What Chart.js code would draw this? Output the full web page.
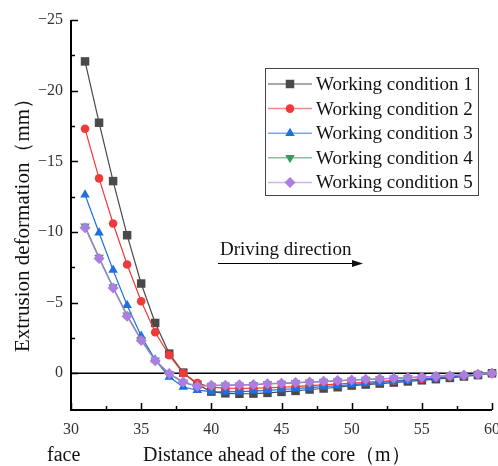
<!DOCTYPE html>
<html>
<head>
<meta charset="utf-8">
<script src="https://cdn.jsdelivr.net/npm/chart.js@4.4.1/dist/chart.umd.min.js"></script>
<style>
  html, body { margin: 0; padding: 0; background: #fff; }
  #wrap { width: 498px; height: 466px; }
</style>
</head>
<body>
<div id="wrap"><canvas id="chart" width="498" height="466"></canvas></div>
<script>
const distances = [31, 32, 33, 34, 35, 36, 37, 38, 39, 40, 41, 42, 43, 44, 45,
  46, 47, 48, 49, 50, 51, 52, 53, 54, 55, 56, 57, 58, 59, 60];

const condition1 = [-22.07, -17.73, -13.6, -9.77, -6.35, -3.56, -1.39, -0.05, 0.8, 1.3, 1.42, 1.45,
  1.44, 1.39, 1.32, 1.25, 1.15, 1.08, 0.99, 0.87, 0.8, 0.73, 0.66, 0.58, 0.5, 0.42, 0.33, 0.23, 0.13, 0.0];
const condition2 = [-17.3, -13.79, -10.6, -7.7, -5.1, -2.9, -1.27, 0.0, 0.69, 0.98, 1.05, 1.07,
  1.06, 1.03, 0.99, 0.94, 0.88, 0.82, 0.76, 0.7, 0.64, 0.58, 0.52, 0.46, 0.4, 0.33, 0.25, 0.17, 0.09, 0.0];
const condition3 = [-12.63, -9.94, -7.3, -4.82, -2.64, -0.95, 0.26, 0.97, 1.2, 1.3, 1.32, 1.3,
  1.26, 1.21, 1.15, 1.09, 1.02, 0.95, 0.88, 0.8, 0.73, 0.65, 0.58, 0.5, 0.42, 0.34, 0.26, 0.17, 0.09, 0.0];
const condition4 = [-10.4, -8.2, -6.1, -4.1, -2.38, -0.92, 0.03, 0.66, 0.92, 0.86, 0.85, 0.84,
  0.81, 0.76, 0.72, 0.68, 0.63, 0.59, 0.54, 0.49, 0.45, 0.4, 0.36, 0.31, 0.27, 0.22, 0.17, 0.12, 0.07, 0.0];
const condition5 = [-10.29, -8.12, -6.04, -4.04, -2.32, -0.88, 0.02, 0.61, 0.92, 0.85, 0.84, 0.82,
  0.8, 0.74, 0.7, 0.66, 0.61, 0.57, 0.52, 0.47, 0.43, 0.39, 0.35, 0.3, 0.26, 0.21, 0.17, 0.12, 0.07, 0.0];

const seriesNames = ['Working condition 1', 'Working condition 2', 'Working condition 3',
  'Working condition 4', 'Working condition 5'];
const yTickValues = [-25, -20, -15, -10, -5, 0];
const xTickValues = [30, 35, 40, 45, 50, 55, 60];

const SERIF = '"Liberation Serif", "Times New Roman", serif';

const styles = [
  { color: '#4a4a4a', line: 'rgba(60,60,60,0.6)', point: 'rect', radius: 6, rotation: 0 },
  { color: '#ef3a3a', line: 'rgba(239,58,58,0.6)', point: 'circle', radius: 4.3, rotation: 0 },
  { color: '#1f6fe0', line: 'rgba(31,111,224,0.6)', point: 'triangle', radius: 5.5, rotation: 0 },
  { color: '#2ea05c', line: 'rgba(46,160,92,0.6)', point: 'triangle', radius: 5.5, rotation: 180 },
  { color: '#ad7ee2', line: 'rgba(173,126,226,0.6)', point: 'rectRot', radius: 5.5, rotation: 0 }
];
const allSeries = [condition1, condition2, condition3, condition4, condition5];

const datasets = allSeries.map((vals, i) => ({
  label: seriesNames[i],
  data: distances.map((d, j) => ({ x: d, y: vals[j] })),
  borderColor: styles[i].color,
  backgroundColor: styles[i].color,
  borderWidth: 1.2,
  pointStyle: styles[i].point,
  pointRadius: styles[i].radius,
  pointRotation: styles[i].rotation,
  pointBorderWidth: 0,
  pointBackgroundColor: styles[i].color,
  tension: 0,
  clip: false,
  order: 5 - i
}));

// zero line, inward ticks, axis titles, legend and the driving-direction arrow
const decorPlugin = {
  id: 'decor',
  beforeDatasetsDraw(chart) {
    const { ctx, chartArea } = chart;
    const y0 = chart.scales.y.getPixelForValue(0);
    ctx.save();
    ctx.strokeStyle = '#000';
    ctx.lineWidth = 1.6;
    ctx.beginPath();
    ctx.moveTo(chartArea.left, y0);
    ctx.lineTo(chartArea.right, y0);
    ctx.stroke();
    ctx.restore();
  },
  afterDraw(chart) {
    const { ctx, chartArea } = chart;
    const xs = chart.scales.x, ys = chart.scales.y;
    ctx.save();
    ctx.strokeStyle = '#000';
    ctx.lineWidth = 2;
    ctx.beginPath();
    ctx.moveTo(chartArea.left, chartArea.top);
    ctx.lineTo(chartArea.left, chartArea.bottom);
    ctx.lineTo(chartArea.right, chartArea.bottom);
    ctx.stroke();

    ctx.lineWidth = 1.5;
    ctx.beginPath();
    for (let v = -25; v <= 0; v += 2.5) {
      const py = Math.round(ys.getPixelForValue(v)) + 0.5;
      const len = v % 5 === 0 ? 7 : 4;
      ctx.moveTo(chartArea.left, py);
      ctx.lineTo(chartArea.left + len, py);
    }
    for (let v = 30; v <= 60; v += 2.5) {
      const px = Math.round(xs.getPixelForValue(v)) + 0.5;
      const len = v % 5 === 0 ? 7 : 4;
      ctx.moveTo(px, chartArea.bottom);
      ctx.lineTo(px, chartArea.bottom - len);
    }
    ctx.stroke();

    // axis titles
    ctx.fillStyle = '#111';
    ctx.font = '20px ' + SERIF;
    ctx.textBaseline = 'middle';
    ctx.textAlign = 'left';
    ctx.fillText('Distance ahead of the core\uFF08m\uFF09', 143, 456);
    ctx.fillText('face', 47, 456);
    ctx.save();
    ctx.translate(23, 220);
    ctx.rotate(-Math.PI / 2);
    ctx.textAlign = 'center';
    ctx.font = '21px ' + SERIF;
    ctx.fillText('Extrusion deformation\uFF08mm\uFF09', 0, 0);
    ctx.restore();

    // driving direction
    ctx.font = '19px ' + SERIF;
    ctx.textAlign = 'left';
    ctx.textBaseline = 'alphabetic';
    ctx.fillText('Driving direction', 220, 255);
    ctx.lineWidth = 1.2;
    ctx.beginPath();
    ctx.moveTo(218, 263.5);
    ctx.lineTo(354, 263.5);
    ctx.stroke();
    ctx.beginPath();
    ctx.moveTo(363, 263.5);
    ctx.lineTo(352, 260);
    ctx.lineTo(352, 267);
    ctx.closePath();
    ctx.fill();

    // legend
    ctx.strokeStyle = '#444';
    ctx.lineWidth = 1;
    ctx.strokeRect(265.5, 68.5, 213, 127);
    ctx.font = '19px ' + SERIF;
    ctx.textBaseline = 'middle';
    seriesNames.forEach((name, i) => {
      const ly = 84 + i * 24.6;
      ctx.strokeStyle = styles[i].line;
      ctx.lineWidth = 1.5;
      ctx.beginPath();
      ctx.moveTo(268, ly);
      ctx.lineTo(312, ly);
      ctx.stroke();
      ctx.fillStyle = styles[i].color;
      ctx.strokeStyle = styles[i].color;
      Chart.helpers.drawPoint(ctx, {
        pointStyle: styles[i].point,
        radius: styles[i].radius,
        rotation: styles[i].rotation,
        borderWidth: 0
      }, 290, ly);
      ctx.fillStyle = '#111';
      ctx.fillText(name, 316, ly + 1);
    });
    ctx.restore();
  }
};

new Chart(document.getElementById('chart'), {
  type: 'line',
  data: { datasets },
  options: {
    responsive: false,
    animation: false,
    layout: { padding: { top: 20, right: 3, left: 0, bottom: 0 } },
    plugins: { legend: { display: false }, tooltip: { enabled: false } },
    scales: {
      x: {
        type: 'linear',
        min: 30,
        max: 60,
        afterBuildTicks(scale) {
          scale.ticks = xTickValues.map(v => ({ value: v }));
        },
        afterFit(scale) {
          scale.height = 56;
          scale.paddingLeft = 0;
          scale.paddingRight = 0;
        },
        grid: { display: false, drawTicks: false },
        border: { display: false },
        ticks: {
          padding: 10,
          color: '#333',
          maxRotation: 0,
          font: { family: SERIF, size: 16 }
        }
      },
      y: {
        type: 'linear',
        reverse: true,
        min: -25,
        max: 2.6,
        afterBuildTicks(scale) {
          scale.ticks = yTickValues.map(v => ({ value: v }));
        },
        afterFit(scale) {
          scale.width = 71;
          scale.paddingTop = 0;
          scale.paddingBottom = 0;
        },
        grid: { display: false, drawTicks: false },
        border: { display: false },
        ticks: {
          padding: 8,
          color: '#333',
          font: { family: SERIF, size: 16 },
          callback: v => (v < 0 ? '\u2212' + Math.abs(v) : String(v))
        }
      }
    }
  },
  plugins: [decorPlugin]
});
</script>
</body>
</html>
